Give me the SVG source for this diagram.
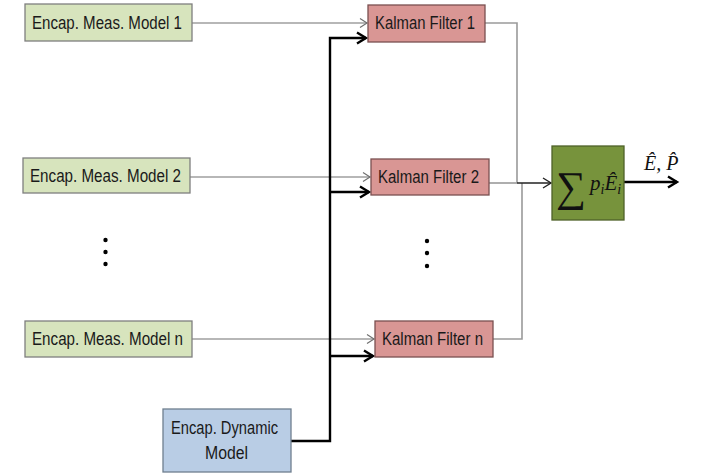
<svg xmlns="http://www.w3.org/2000/svg" width="702" height="475" viewBox="0 0 702 475">
<style>
.t{font-family:"Liberation Sans",Arial,sans-serif;font-size:17.5px;fill:#1a1a1a;}
.m{font-family:"Liberation Serif","Times New Roman",serif;font-style:italic;fill:#111;}
.meas{fill:#D7E4BD;stroke:#7f7f7f;stroke-width:1.3;}
.kf{fill:#D99694;stroke:#7a5050;stroke-width:1.3;}
.dyn{fill:#B9CDE5;stroke:#6f7f8f;stroke-width:1.3;}
.sum{fill:#77933C;stroke:#4f6228;stroke-width:1.3;}
.thin{stroke:#707070;stroke-width:1.2;fill:none;}
.thick{stroke:#000;stroke-width:2.4;fill:none;}
.gray{stroke:#9a9a9a;stroke-width:1.6;fill:none;}
</style>
<defs>
<marker id="ah" markerWidth="10" markerHeight="10" refX="8" refY="5" orient="auto" markerUnits="userSpaceOnUse">
<path d="M1,0.5 L8,5 L1,9.5" fill="none" stroke="#707070" stroke-width="1.2"/>
</marker>
<marker id="ahk" markerWidth="14" markerHeight="14" refX="11" refY="7" orient="auto" markerUnits="userSpaceOnUse">
<path d="M2,1.5 L11,7 L2,12.5" fill="none" stroke="#000" stroke-width="2.4"/>
</marker>
<marker id="ahd" markerWidth="12" markerHeight="12" refX="9" refY="6" orient="auto" markerUnits="userSpaceOnUse">
<path d="M1,1 L9,6 L1,11" fill="none" stroke="#222" stroke-width="1.4"/>
</marker>
</defs>
<rect width="702" height="475" fill="#fff"/>
<g id="connectors">
<line class="thin" x1="192" y1="23" x2="367" y2="23" marker-end="url(#ah)"/>
<line class="thin" x1="190" y1="177" x2="370" y2="177" marker-end="url(#ah)"/>
<line class="thin" x1="192" y1="339" x2="374" y2="339" marker-end="url(#ah)"/>
<polyline class="thick" points="291,441 330,441 330,38 366,38" marker-end="url(#ahk)"/>
<line class="thick" x1="330" y1="192" x2="369" y2="192" marker-end="url(#ahk)"/>
<line class="thick" x1="330" y1="356" x2="373" y2="356" marker-end="url(#ahk)"/>
<polyline class="gray" points="485,23 517,23 517,183"/>
<polyline class="gray" points="493,339 522,339 522,183"/>
<line class="gray" x1="489" y1="183" x2="517" y2="183"/>
<line stroke="#222" stroke-width="1.4" x1="517" y1="183" x2="551" y2="183" marker-end="url(#ahd)"/>
<line class="thick" x1="624" y1="182" x2="677" y2="182" marker-end="url(#ahk)"/>
</g>
<g id="meas1"><rect class="meas" x="25" y="4" width="167" height="37"/><text class="t" x="32" y="29" textLength="150" lengthAdjust="spacingAndGlyphs">Encap. Meas. Model 1</text></g>
<g id="meas2"><rect class="meas" x="23" y="158" width="167" height="35"/><text class="t" x="30" y="182" textLength="151" lengthAdjust="spacingAndGlyphs">Encap. Meas. Model 2</text></g>
<g id="measn"><rect class="meas" x="25" y="321" width="167" height="36"/><text class="t" x="32" y="345" textLength="151" lengthAdjust="spacingAndGlyphs">Encap. Meas. Model n</text></g>
<g id="kf1"><rect class="kf" x="368" y="5" width="117" height="37"/><text class="t" x="375" y="29" textLength="100" lengthAdjust="spacingAndGlyphs">Kalman Filter 1</text></g>
<g id="kf2"><rect class="kf" x="371" y="159" width="118" height="36"/><text class="t" x="378" y="183" textLength="101" lengthAdjust="spacingAndGlyphs">Kalman Filter 2</text></g>
<g id="kfn"><rect class="kf" x="375" y="321" width="118" height="36"/><text class="t" x="382" y="345" textLength="101" lengthAdjust="spacingAndGlyphs">Kalman Filter n</text></g>
<g id="dyn"><rect class="dyn" x="163" y="409" width="128" height="63"/><text class="t" x="171" y="434" textLength="107" lengthAdjust="spacingAndGlyphs">Encap. Dynamic</text><text class="t" x="205" y="459" textLength="43" lengthAdjust="spacingAndGlyphs">Model</text></g>
<g id="sum"><rect class="sum" x="552" y="146" width="72" height="74"/>
<text class="m" x="556" y="201" font-size="42" font-style="normal">∑</text>
<text class="m" x="590" y="190" font-size="21">p<tspan font-size="14" dy="4">i</tspan><tspan font-size="21" dy="-4">Ê</tspan><tspan font-size="14" dy="4">i</tspan></text>
</g>
<g id="output-label"><text class="m" x="644" y="170" font-size="20">Ê, P̂</text></g>
<g id="dots1" fill="#000"><circle cx="105.5" cy="240" r="2.2"/><circle cx="105.5" cy="252" r="2.2"/><circle cx="105.5" cy="264" r="2.2"/></g>
<g id="dots2" fill="#000"><circle cx="427" cy="241" r="2.2"/><circle cx="427" cy="253" r="2.2"/><circle cx="427" cy="266" r="2.2"/></g>
</svg>
